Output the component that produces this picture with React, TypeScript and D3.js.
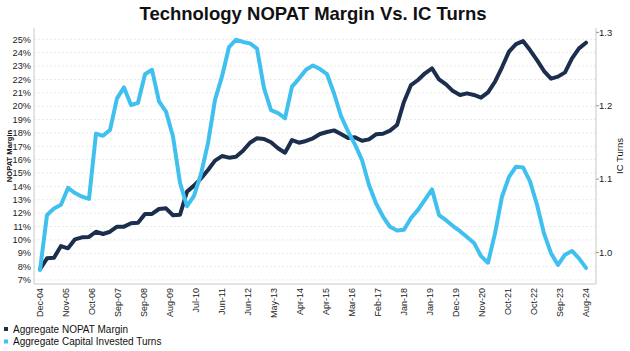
import * as d3 from "d3";

// aggregate NOPAT margin (%), Dec-04 .. Aug-24
const nopatMargin = [
  7.8, 8.62, 8.67, 9.54, 9.37, 10.04, 10.19, 10.22, 10.61, 10.44, 10.61, 10.99, 10.99, 11.24, 11.29, 11.94, 11.94, 12.31, 12.36, 11.84, 11.88,
  13.61, 14.06, 14.6, 15.23, 15.93, 16.27, 16.15, 16.22, 16.67, 17.27, 17.6, 17.55, 17.3, 16.85, 16.52, 17.47, 17.27, 17.4, 17.6, 17.92,
  18.07, 18.19, 17.92, 17.62, 17.67, 17.42, 17.52, 17.9, 17.94, 18.17, 18.59, 20.34, 21.58, 21.96, 22.46, 22.83, 22.0, 21.63, 21.13, 20.84,
  20.96, 20.84, 20.64, 21.04, 21.83, 22.91, 24.08, 24.65, 24.87, 24.2, 23.45, 22.63, 22.06, 22.21, 22.53, 23.58, 24.33, 24.75,
];

// aggregate capital invested turns
const icTurns = [
  0.976, 1.051, 1.06, 1.065, 1.088, 1.081, 1.076, 1.073, 1.162, 1.159, 1.167, 1.21, 1.225, 1.201, 1.204, 1.243, 1.249, 1.206, 1.192, 1.158, 1.095,
  1.063, 1.077, 1.107, 1.149, 1.208, 1.24, 1.28, 1.29, 1.287, 1.285, 1.278, 1.224, 1.194, 1.19, 1.183, 1.226, 1.237, 1.249, 1.255, 1.25,
  1.243, 1.217, 1.186, 1.165, 1.147, 1.126, 1.092, 1.067, 1.049, 1.035, 1.03, 1.031, 1.047, 1.058, 1.072, 1.086, 1.051, 1.044, 1.036, 1.029,
  1.021, 1.013, 0.995, 0.986, 1.026, 1.076, 1.103, 1.117, 1.116, 1.097, 1.065, 1.026, 0.999, 0.983, 0.997, 1.002, 0.992, 0.979,
];

const xLabels = [
  "Dec-04", "Nov-05", "Oct-06", "Sep-07", "Sep-08", "Aug-09", "Jul-10", "Jun-11", "Jun-12", "May-13", "Apr-14",
  "Apr-15", "Mar-16", "Feb-17", "Jan-18", "Jan-19", "Dec-19", "Nov-20", "Oct-21", "Oct-22", "Sep-23", "Aug-24",
];

const leftTicks = d3.range(7, 26);
const rightTicks = [1.0, 1.1, 1.2, 1.3];

const seriesNames = ["Aggregate NOPAT Margin", "Aggregate Capital Invested Turns"];
const colors = ["#1c2e4d", "#40c0ef"];

const W = 630;
const H = 351;
const plot = { left: 34, right: 596, top: 28, bottom: 284 };
const font = "Arial, 'Liberation Sans', sans-serif";

export default function App() {
  // one position scale shared by the points and the date labels
  const x = d3.scaleLinear().domain([0, 1]).range([40, 586]);
  const yL = d3.scaleLinear().domain([6.7, 25.85]).range([plot.bottom, plot.top]);
  const yR = d3.scaleLinear().domain([0.957, 1.306]).range([plot.bottom, plot.top]);

  const n = nopatMargin.length;
  const lineL = d3.line<number>()
    .x((d, i) => x(i / (n - 1)))
    .y((d) => yL(d));
  const lineR = d3.line<number>()
    .x((d, i) => x(i / (icTurns.length - 1)))
    .y((d) => yR(d));

  return (
    <svg width={W} height={H} style={{ position: "absolute", left: 0, top: 0, background: "#fff" }} fontFamily={font}>
      <text x={313} y={19.5} textAnchor="middle" fontSize={18.5} fontWeight="bold" fill="#111">
        Technology NOPAT Margin Vs. IC Turns
      </text>

      {/* gridlines */}
      {leftTicks.map((t) => (
        <line key={t} x1={plot.left} x2={plot.right} y1={yL(t)} y2={yL(t)}
          stroke="#d9d9d9" strokeWidth={0.8} strokeDasharray="1.5,2.5" />
      ))}

      {/* frame */}
      <path d={`M${plot.left},${plot.top}V${plot.bottom}H${plot.right}V${plot.top}`} fill="none" stroke="#c8c8c8" strokeWidth={1} />

      {leftTicks.map((t) => (
        <text key={t} x={31} y={yL(t)} dy="0.35em" textAnchor="end" fontSize={9.2} fill="#222">{t}%</text>
      ))}
      {rightTicks.map((t) => (
        <g key={t}>
          <line x1={plot.right} x2={plot.right + 3} y1={yR(t)} y2={yR(t)} stroke="#999" />
          <text x={599} y={yR(t)} dy="0.35em" fontSize={9.5} fill="#222">{t.toFixed(1)}</text>
        </g>
      ))}

      {xLabels.map((l, k) => (
        <text key={l} transform={`translate(${x(k / (xLabels.length - 1)) + 3},${plot.bottom + 4}) rotate(-90)`}
          textAnchor="end" fontSize={9} fill="#222">{l}</text>
      ))}

      <text transform={`translate(12,156) rotate(-90)`} textAnchor="middle" fontSize={7.6} fontWeight="bold" fill="#111">
        NOPAT Margin
      </text>
      <text transform={`translate(623,156) rotate(-90)`} textAnchor="middle" fontSize={9.5} fill="#111">
        IC Turns
      </text>

      <path d={lineL(nopatMargin) ?? ""} fill="none" stroke={colors[0]} strokeWidth={4} strokeLinejoin="round" strokeLinecap="round" />
      <path d={lineR(icTurns) ?? ""} fill="none" stroke={colors[1]} strokeWidth={4} strokeLinejoin="round" strokeLinecap="round" />

      {seriesNames.map((s, i) => (
        <g key={s} transform={`translate(0,${329 + i * 12.5})`}>
          <rect x={4} y={-2} width={4} height={4} fill={colors[i]} />
          <text x={13} y={0} dy="0.35em" fontSize={10} fill="#111">{s}</text>
        </g>
      ))}
    </svg>
  );
}
